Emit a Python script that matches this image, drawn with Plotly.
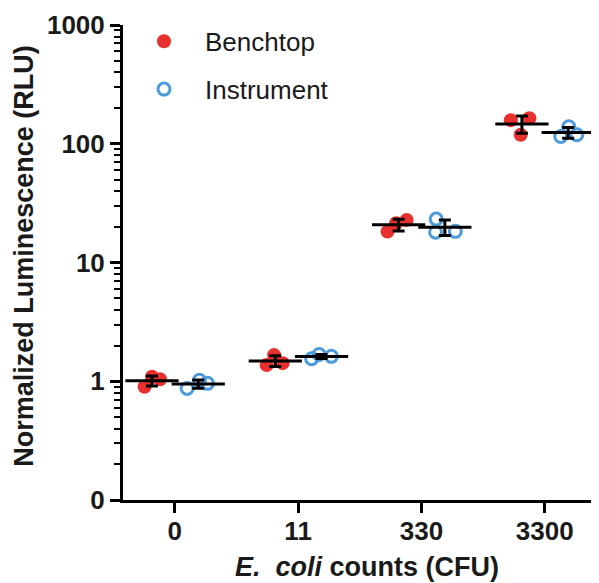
import numpy as np
import plotly.graph_objects as go

categories = ["0", "11", "330", "3300"]
benchtop = [[0.90, 1.09, 1.04], [1.37, 1.66, 1.42], [18.2, 21.4, 22.8], [158, 164, 119]]
instrument = [[0.87, 1.02, 0.96], [1.55, 1.68, 1.62], [23.2, 18.0, 18.3], [115, 139, 119]]
y_ticks = [0.1, 1, 10, 100, 1000]
y_ticktext = ["0", "1", "10", "100", "1000"]

RED = "#E8312F"
BLUE = "#4C9BDB"
FONT = "Liberation Sans"
TXT = "#1a1a1a"

group_offset = {"Benchtop": -0.185, "Instrument": 0.19}
jitter = {"Benchtop": [[-0.06, 0.0, 0.065], [-0.07, -0.01, 0.06], [-0.09, -0.02, 0.065], [-0.09, 0.06, -0.01]],
          "Instrument": [[-0.09, 0.01, 0.075], [-0.08, -0.02, 0.08], [-0.07, -0.075, 0.085], [-0.06, 0.005, 0.07]]}

fig = go.Figure()

series = [("Benchtop", benchtop, RED, "circle"), ("Instrument", instrument, BLUE, "circle-open")]
for name, vals, col, sym in series:
    xs, ys = [], []
    for i, grp in enumerate(vals):
        for j, v in enumerate(grp):
            xs.append(i + group_offset[name] + jitter[name][i][j])
            ys.append(v)
    if sym == "circle":
        marker = dict(symbol=sym, size=14, color=col, line=dict(width=0))
    else:
        marker = dict(symbol=sym, size=12, color=col, line=dict(width=3, color=col))
    fig.add_trace(go.Scatter(x=xs, y=ys, mode="markers", name=name, marker=marker,
                             legendgroup=name, showlegend=True))

for name, vals, col, sym in series:
    means = [float(np.mean(g)) for g in vals]
    sds = [float(np.std(g, ddof=1)) for g in vals]
    xm = [i + group_offset[name] for i in range(len(vals))]
    fig.add_trace(go.Scatter(x=xm, y=means, mode="markers", showlegend=False, legendgroup=name,
                             marker=dict(symbol="line-ew", size=38, color="black",
                                         line=dict(width=3, color="black")),
                             error_y=dict(type="data", array=sds, visible=True,
                                          color="black", thickness=3, width=6)))

minor_vals = [k * 10.0 ** d for d in range(-1, 3) for k in range(2, 10)]

# page body has an 8px default margin; figure sized to sit in the 599x583 window
fig.update_layout(
    width=591, height=575,
    margin=dict(l=115, r=0, t=17, b=83),
    paper_bgcolor="white", plot_bgcolor="white",
    font=dict(family=FONT, color=TXT),
    legend=dict(x=0.0, y=1.015, xanchor="left", yanchor="top", tracegroupgap=11,
                itemwidth=72,
                font=dict(size=26, family=FONT, color=TXT), bgcolor="rgba(0,0,0,0)"),
    xaxis=dict(range=[-0.42, 3.44], tickmode="array", tickvals=list(range(len(categories))),
               ticktext=categories, ticks="outside", ticklen=10, tickwidth=3, tickcolor="black",
               showline=True, linewidth=3, linecolor="black", showgrid=False, zeroline=False,
               ticklabelstandoff=-4,
               tickfont=dict(size=26, family=FONT, color=TXT, weight="bold")),
    yaxis=dict(type="log", range=[-1, 3], tickmode="array", tickvals=y_ticks, ticktext=y_ticktext,
               ticks="outside", ticklen=10, tickwidth=3, tickcolor="black",
               showline=True, linewidth=3, linecolor="black", showgrid=False, zeroline=False,
               tickfont=dict(size=26, family=FONT, color=TXT, weight="bold"),
               minor=dict(tickmode="array", tickvals=minor_vals, ticks="outside", ticklen=6,
                          tickwidth=2, tickcolor="black", showgrid=False)),
    annotations=[
        dict(text="Normalized Luminescence (RLU)", xref="paper", yref="paper",
             x=-0.208, y=0.514, xanchor="center", yanchor="middle", textangle=-90,
             showarrow=False, font=dict(size=27, family=FONT, color=TXT, weight="bold")),
        dict(text="<i>E.</i>&nbsp; <i>coli</i> counts (CFU)", xref="paper", yref="paper",
             x=0.5116, y=-0.141, xanchor="center", yanchor="middle",
             showarrow=False, font=dict(size=27, family=FONT, color=TXT, weight="bold")),
    ],
)

fig.write_html("out.html")
